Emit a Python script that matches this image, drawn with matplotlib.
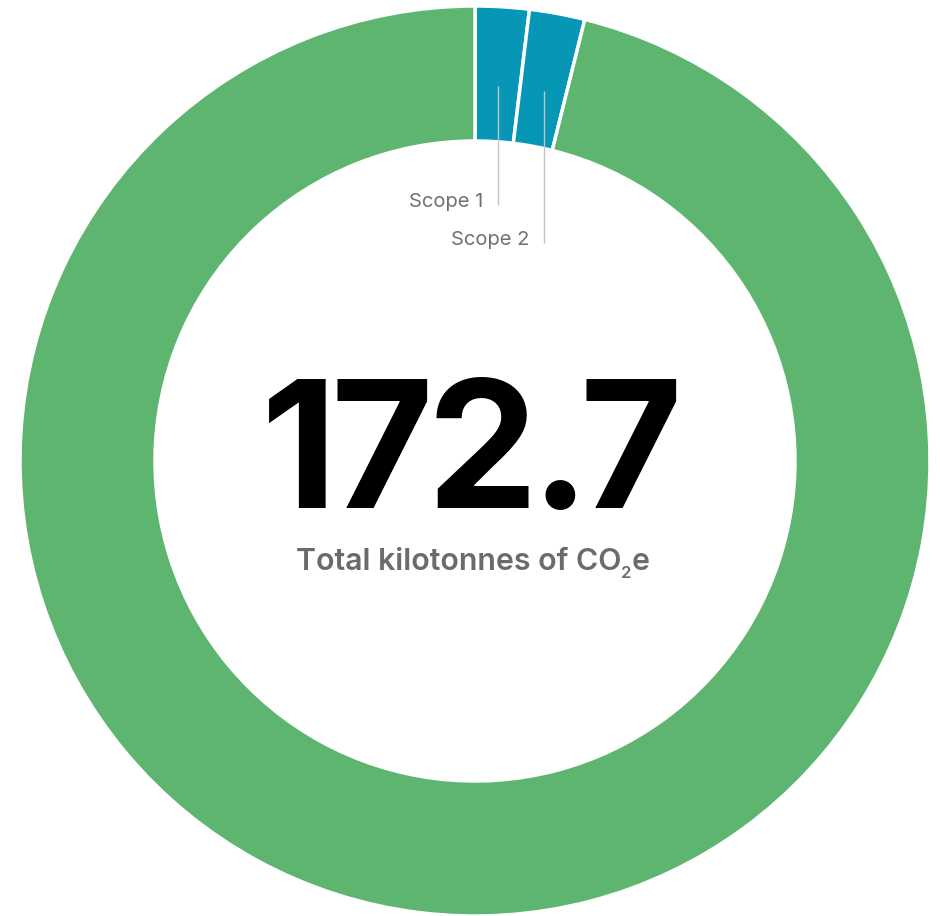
import matplotlib
matplotlib.use("Agg")
import matplotlib.pyplot as plt
import numpy as np

plt.rcParams["font.family"] = ["Inter", "DejaVu Sans"]

# ── data ────────────────────────────────────────────────────────────────────
scopes = ["Scope 1", "Scope 2", "Scope 3"]
values = [3.3, 3.4, 166.0]
total_label = "172.7"

C_GREEN = "#5db56f"
C_BLUE = "#0697b6"
colors = [C_BLUE, C_BLUE, C_GREEN]

W, H = 940, 916
CX, CY = 475, H - 461
R_OUT, R_IN = 455, 320

fig = plt.figure(figsize=(W / 100, H / 100), dpi=100)
ax = fig.add_axes([0, 0, 1, 1])

wedges, _ = ax.pie(values, colors=colors, startangle=90, counterclock=False,
                   radius=R_OUT, center=(CX, CY),
                   wedgeprops=dict(width=R_OUT - R_IN, edgecolor="white",
                                   linewidth=2.5))
ax.set_xlim(0, W)
ax.set_ylim(0, H)
ax.set_aspect("equal")
ax.axis("off")

renderer = fig.canvas.get_renderer()


def place_run(pieces, cx, base_y):
    """lay text pieces left to right (layout boxes), centred on cx"""
    objs = []
    for s, kw, gap, dy in pieces:
        t = ax.text(0, base_y + dy, s, ha="left", va="baseline", **kw)
        objs.append((t, t.get_window_extent(renderer).width, gap))
    total = sum(w for _, w, _ in objs) + sum(g for _, _, g in objs[:-1])
    x = cx - total / 2
    for t, w, g in objs:
        t.set_x(x)
        x += w + g


# ── leader labels for the two small slices ─────────────────────────────────
label_ends = {"Scope 1": 205, "Scope 2": 243}
for w, name in zip(wedges, scopes):
    if name not in label_ends:
        continue
    mid = np.deg2rad((w.theta1 + w.theta2) / 2)
    r_mid = 382
    x0 = CX + r_mid * np.cos(mid)
    y0 = CY + r_mid * np.sin(mid) - 6
    y1 = H - label_ends[name]
    ax.plot([x0, x0], [y0, y1], color="#c4c4c4", lw=1, solid_capstyle="butt")
    ax.text(x0 - 15, y1 - 2, name, ha="right", va="baseline",
            fontsize=14.5, color="#707070")

# ── big total: tight letter spacing, measured from rendered ink ─────────────
BIG = 127
BASE = H - 508
gaps = [13, 10, 18, 12]
probe_x = [200, 330, 460, 590, 720]
chars = [ax.text(px, BASE, ch, ha="center", va="baseline", fontsize=BIG,
                 fontweight="bold", color="black")
         for ch, px in zip(total_label, probe_x)]
fig.canvas.draw()
img = np.asarray(fig.canvas.buffer_rgba())[:, :, :3].astype(int)
band = img[360:520]
dark = (band.max(axis=2) < 90).any(axis=0)
cols = np.flatnonzero(dark)
runs = np.split(cols, np.flatnonzero(np.diff(cols) > 1) + 1)
ink = [(r[0], r[-1] + 1) for r in runs]
span = sum(b - a for a, b in ink) + sum(gaps)
left = 472.5 - span / 2
for t, px, (a, b), g in zip(chars, probe_x, ink, gaps + [0]):
    t.set_x(px + (left - a))
    left += (b - a) + g

sub = dict(fontweight="semibold", color="#6b6b6b")
place_run([("Total kilotonnes of CO", dict(fontsize=21.8, **sub), 0, 0),
           ("2", dict(fontsize=12, **sub), 0, -8),
           ("e", dict(fontsize=21.8, **sub), 0, 0)],
          472.5, H - 570)

fig.savefig("out.png", dpi=100, facecolor="white")
